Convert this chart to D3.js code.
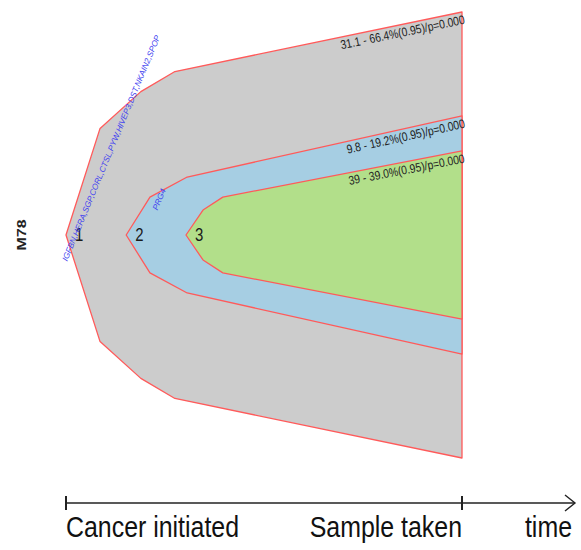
<!DOCTYPE html>
<html>
<head>
<meta charset="utf-8">
<script src="https://cdn.jsdelivr.net/npm/d3@7"></script>
<style>
	body { margin: 0; background: #fff; }
	text { font-family: 'Liberation Sans', Arial, sans-serif; }
</style>
</head>
<body>
<svg></svg>
<script>
const width = 581;
const height = 550;

// clones, drawn from the outside in
const cloneIds = ['1', '2', '3'];
const cloneColors = ['#cccccc', '#a6cee3', '#b2df8a'];
const cloneTimes = [
	[0, 8.6, 18.9, 27.5, 100],
	[15.2, 21.2, 30.6, 100],
	[30.3, 34.6, 39.6, 100]
];
const cloneWidths = [
	[0, 47.8, 64.3, 73.3, 100],
	[0, 17, 26, 53.4],
	[0, 11.2, 17, 37.7]
];
const ccfLabels = [
	'31.1 - 66.4%(0.95)/p=0.000',
	'9.8 - 19.2%(0.95)/p=0.000',
	'39 - 39.0%(0.95)/p=0.000'
];
const driverLabels = [
	'IGFBN,HERA,SGP,CORL,CTSL,PYW,HIVEP3,DST,NKAIN2,SPOP',
	'PRG4',
	''
];
const sampleName = 'M78';
const timeLabels = ['Cancer initiated', 'Sample taken', 'time'];

// the original picture is squeezed sideways
const squash = 0.83;

const svg = d3.select('svg')
	.attr('width', width)
	.attr('height', height);

const x = d3.scaleLinear()
	.domain([0, 100])
	.range([66, 462]);
const y = d3.scaleLinear()
	.domain([-100, 100])
	.range([458, 12]);

const area = d3.area()
	.x(d => x(d.t))
	.y0(d => y(-d.w))
	.y1(d => y(d.w));

const clones = cloneIds.map((id, i) => ({
	id,
	color: cloneColors[i],
	points: cloneTimes[i].map((t, j) => ({ t, w: cloneWidths[i][j] })),
	ccf: ccfLabels[i],
	driver: driverLabels[i]
}));

function squeeze(selection) {
	selection.each(function () {
		const len = this.getComputedTextLength();
		d3.select(this)
			.attr('textLength', len * squash)
			.attr('lengthAdjust', 'spacingAndGlyphs');
	});
}

svg.append('g')
	.selectAll('path')
	.data(clones)
	.join('path')
		.attr('d', d => area(d.points))
		.attr('fill', d => d.color)
		.attr('stroke', '#ff5a5a')
		.attr('stroke-width', 1.3)
		.attr('stroke-linejoin', 'round');

// clone numbers near each tip
svg.append('g')
	.selectAll('text')
	.data(clones)
	.join('text')
		.attr('x', d => x(d.points[0].t) + 9)
		.attr('y', y(0))
		.attr('dy', '0.36em')
		.attr('font-size', 18)
		.attr('fill', '#1a1a1a')
		.text(d => d.id)
		.call(squeeze);

// cell fraction labels along the top edge at the sample
svg.append('g')
	.selectAll('text')
	.data(clones)
	.join('text')
		.attr('transform', d => {
			const n = d.points.length;
			const a = d.points[n - 2];
			const b = d.points[n - 1];
			const angle = Math.atan2(y(b.w) - y(a.w), x(b.t) - x(a.t)) * 180 / Math.PI;
			return `translate(${x(b.t) + 1}, ${y(b.w)}) rotate(${angle})`;
		})
		.attr('text-anchor', 'end')
		.attr('dy', '0.95em')
		.attr('font-size', 12.5)
		.attr('fill', '#222')
		.text(d => d.ccf)
		.call(squeeze);

// driver events, slanted
const driverPos = [[11.4, 39], [23.5, 16], [0, 0]];
svg.append('g')
	.selectAll('text')
	.data(clones.filter(d => d.driver))
	.join('text')
		.attr('transform', (d, i) => `translate(${x(driverPos[i][0])}, ${y(driverPos[i][1])}) rotate(-67.5)`)
		.attr('text-anchor', 'middle')
		.attr('dy', '0.35em')
		.attr('font-size', 8.2)
		.attr('font-style', 'italic')
		.attr('fill', '#4040f0')
		.text(d => d.driver);

svg.append('text')
	.attr('transform', `translate(22, ${y(0)}) rotate(-90)`)
	.attr('text-anchor', 'middle')
	.attr('dy', '0.35em')
	.attr('font-size', 12)
	.attr('font-weight', 'bold')
	.attr('fill', '#222')
	.attr('textLength', 31)
	.attr('lengthAdjust', 'spacingAndGlyphs')
	.text(sampleName);

// time axis
const axisY = 503;
const axisEnd = 575;
const axis = svg.append('g')
	.attr('stroke', '#222')
	.attr('stroke-width', 1.4)
	.attr('fill', 'none');
axis.append('line')
	.attr('x1', x(0)).attr('x2', axisEnd)
	.attr('y1', axisY).attr('y2', axisY);
axis.selectAll('.tick')
	.data([0, 100])
	.join('line')
		.attr('class', 'tick')
		.attr('stroke-width', 2)
		.attr('x1', d => x(d)).attr('x2', d => x(d))
		.attr('y1', axisY - 7).attr('y2', axisY + 7);
axis.append('path')
	.attr('d', `M${axisEnd - 10},${axisY - 8}L${axisEnd},${axisY}L${axisEnd - 10},${axisY + 8}`);

const labelX = [x(0), x(100), axisEnd - 3];
const labelAnchor = ['start', 'end', 'end'];
svg.append('g')
	.selectAll('text')
	.data(timeLabels)
	.join('text')
		.attr('x', (d, i) => labelX[i])
		.attr('y', 537)
		.attr('text-anchor', (d, i) => labelAnchor[i])
		.attr('font-size', 30)
		.attr('fill', '#111')
		.text(d => d)
		.call(squeeze);
</script>
</body>
</html>
